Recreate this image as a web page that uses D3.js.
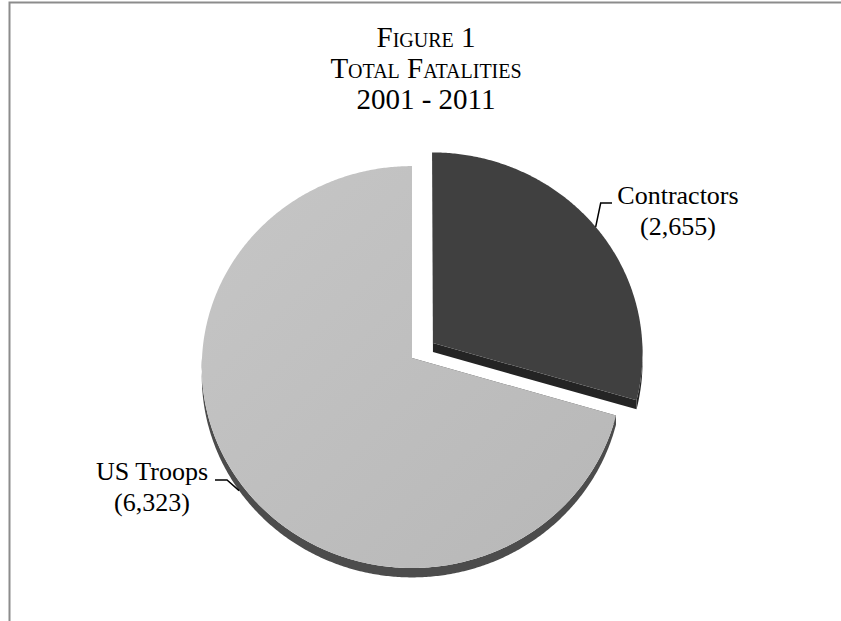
<!DOCTYPE html>
<html><head><meta charset="utf-8">
<script src="https://cdn.jsdelivr.net/npm/d3@7"></script>
<style>html,body{margin:0;padding:0;background:#fff}svg{display:block}</style>
</head><body><svg id="chart" width="841" height="621"></svg>
<script>
// ---- data ----
const categories = ["Contractors", "US Troops"];
const values = [2655, 6323];
const valueLabels = ["(2,655)", "(6,323)"];
const titleLines = ["Figure 1", "Total Fatalities", "2001 - 2011"];
const smallCapsLines = [true, true, false];

// ---- layout ----
const W = 841, H = 621;
const svg = d3.select("#chart");
const font = "'Liberation Serif','Times New Roman',serif";

// frame
svg.append("path").attr("d", `M9.5,${H} V2.5 H${W}`)
  .attr("fill", "none").attr("stroke", "#8c8c8c").attr("stroke-width", 2);

// title with small caps
const titleX = 426, titleY0 = 47, titleDY = 31, bigSize = 29, smallSize = 20;
titleLines.forEach((line, i) => {
  const t = svg.append("text").attr("x", titleX).attr("y", titleY0 + i * titleDY)
    .attr("text-anchor", "middle").attr("font-family", font).attr("fill", "#000");
  if (!smallCapsLines[i]) { t.attr("font-size", bigSize).text(line); return; }
  const words = line.split(" ");
  words.forEach((w, wi) => {
    const prefix = wi > 0 ? " " : "";
    if (/^[A-Za-z]/.test(w)) {
      t.append("tspan").attr("font-size", bigSize).text(prefix + w[0].toUpperCase());
      if (w.length > 1) t.append("tspan").attr("font-size", smallSize).text(w.slice(1).toUpperCase());
    } else {
      t.append("tspan").attr("font-size", bigSize).text(prefix + w);
    }
  });
});

// ---- 3D pie projection ----
const cx = 412, cy = 358, R = 210, sinT = 0.955, persp = 0.045, depth = 9, explode = 0.125;
function proj(X, Z, h) {
  const d = 1 - Z * persp;
  return [cx + R * X / d, cy + (R * sinT * Z + h) / d];
}
const arcs = d3.pie().sort(null).startAngle(0).endAngle(2 * Math.PI).value(d => d)(values);
const explodeBy = [explode, 0];
const topFill = ["#404040", "url(#usGrad)"];
const sideFill = ["#242424", "#4c4c4c"];

const defs = svg.append("defs");
const g1 = defs.append("linearGradient").attr("id", "usGrad")
  .attr("x1", "0").attr("y1", "0").attr("x2", "1").attr("y2", "1");
g1.append("stop").attr("offset", "0").attr("stop-color", "#c6c6c6");
g1.append("stop").attr("offset", "1").attr("stop-color", "#b7b7b7");

const line = d3.line();
const pieG = svg.append("g");
const STEP = Math.PI / 360;

function arcPts(a0, a1, ox, oz, h) {
  const pts = [];
  const n = Math.max(2, Math.ceil((a1 - a0) / STEP));
  for (let k = 0; k <= n; k++) {
    const a = a0 + (a1 - a0) * k / n;
    pts.push(proj(ox + Math.sin(a), oz - Math.cos(a), h));
  }
  return pts;
}

const anchors = [];
arcs.forEach((s, i) => {
  const mid = (s.startAngle + s.endAngle) / 2;
  const ox = explodeBy[i] * Math.sin(mid), oz = -explodeBy[i] * Math.cos(mid);
  const g = pieG.append("g");
  // cut faces
  [s.startAngle, s.endAngle].forEach(a => {
    const c0 = proj(ox, oz, 0), c1 = proj(ox, oz, depth);
    const e0 = proj(ox + Math.sin(a), oz - Math.cos(a), 0), e1 = proj(ox + Math.sin(a), oz - Math.cos(a), depth);
    g.append("path").attr("d", line([c0, e0, e1, c1]) + "Z").attr("fill", sideFill[i]);
  });
  // outer wall (front half)
  const w0 = Math.max(s.startAngle, Math.PI / 2), w1 = Math.min(s.endAngle, 3 * Math.PI / 2);
  if (w1 > w0) {
    const top = arcPts(w0, w1, ox, oz, 0), bot = arcPts(w0, w1, ox, oz, depth).reverse();
    g.append("path").attr("d", line(top.concat(bot)) + "Z").attr("fill", sideFill[i]);
  }
  // top face
  const pts = [proj(ox, oz, 0)].concat(arcPts(s.startAngle, s.endAngle, ox, oz, 0));
  g.append("path").attr("d", line(pts) + "Z").attr("fill", topFill[i]);
  anchors.push({ top: proj(ox + Math.sin(mid), oz - Math.cos(mid), 0),
                 bot: proj(ox + Math.sin(mid), oz - Math.cos(mid), depth) });
});

// ---- labels ----
const labelPos = [{ x: 678, y: 204 }, { x: 152, y: 480 }];
const lineGap = 31, labelSize = 26;
categories.forEach((c, i) => {
  const t = svg.append("text").attr("text-anchor", "middle").attr("font-family", font)
    .attr("font-size", labelSize).attr("fill", "#000");
  t.append("tspan").attr("x", labelPos[i].x).attr("y", labelPos[i].y).text(c);
  t.append("tspan").attr("x", labelPos[i].x).attr("y", labelPos[i].y + lineGap).text(valueLabels[i]);
});
// leader lines
const a0 = anchors[0].top;
svg.append("path").attr("d", line([a0, [a0[0] + 5, 203], [612, 203]]))
  .attr("fill", "none").attr("stroke", "#000").attr("stroke-width", 1.5);
const a1 = anchors[1].bot;
svg.append("path").attr("d", line([a1, [227, 480], [215, 480]]))
  .attr("fill", "none").attr("stroke", "#000").attr("stroke-width", 1.5);
</script></body></html>
